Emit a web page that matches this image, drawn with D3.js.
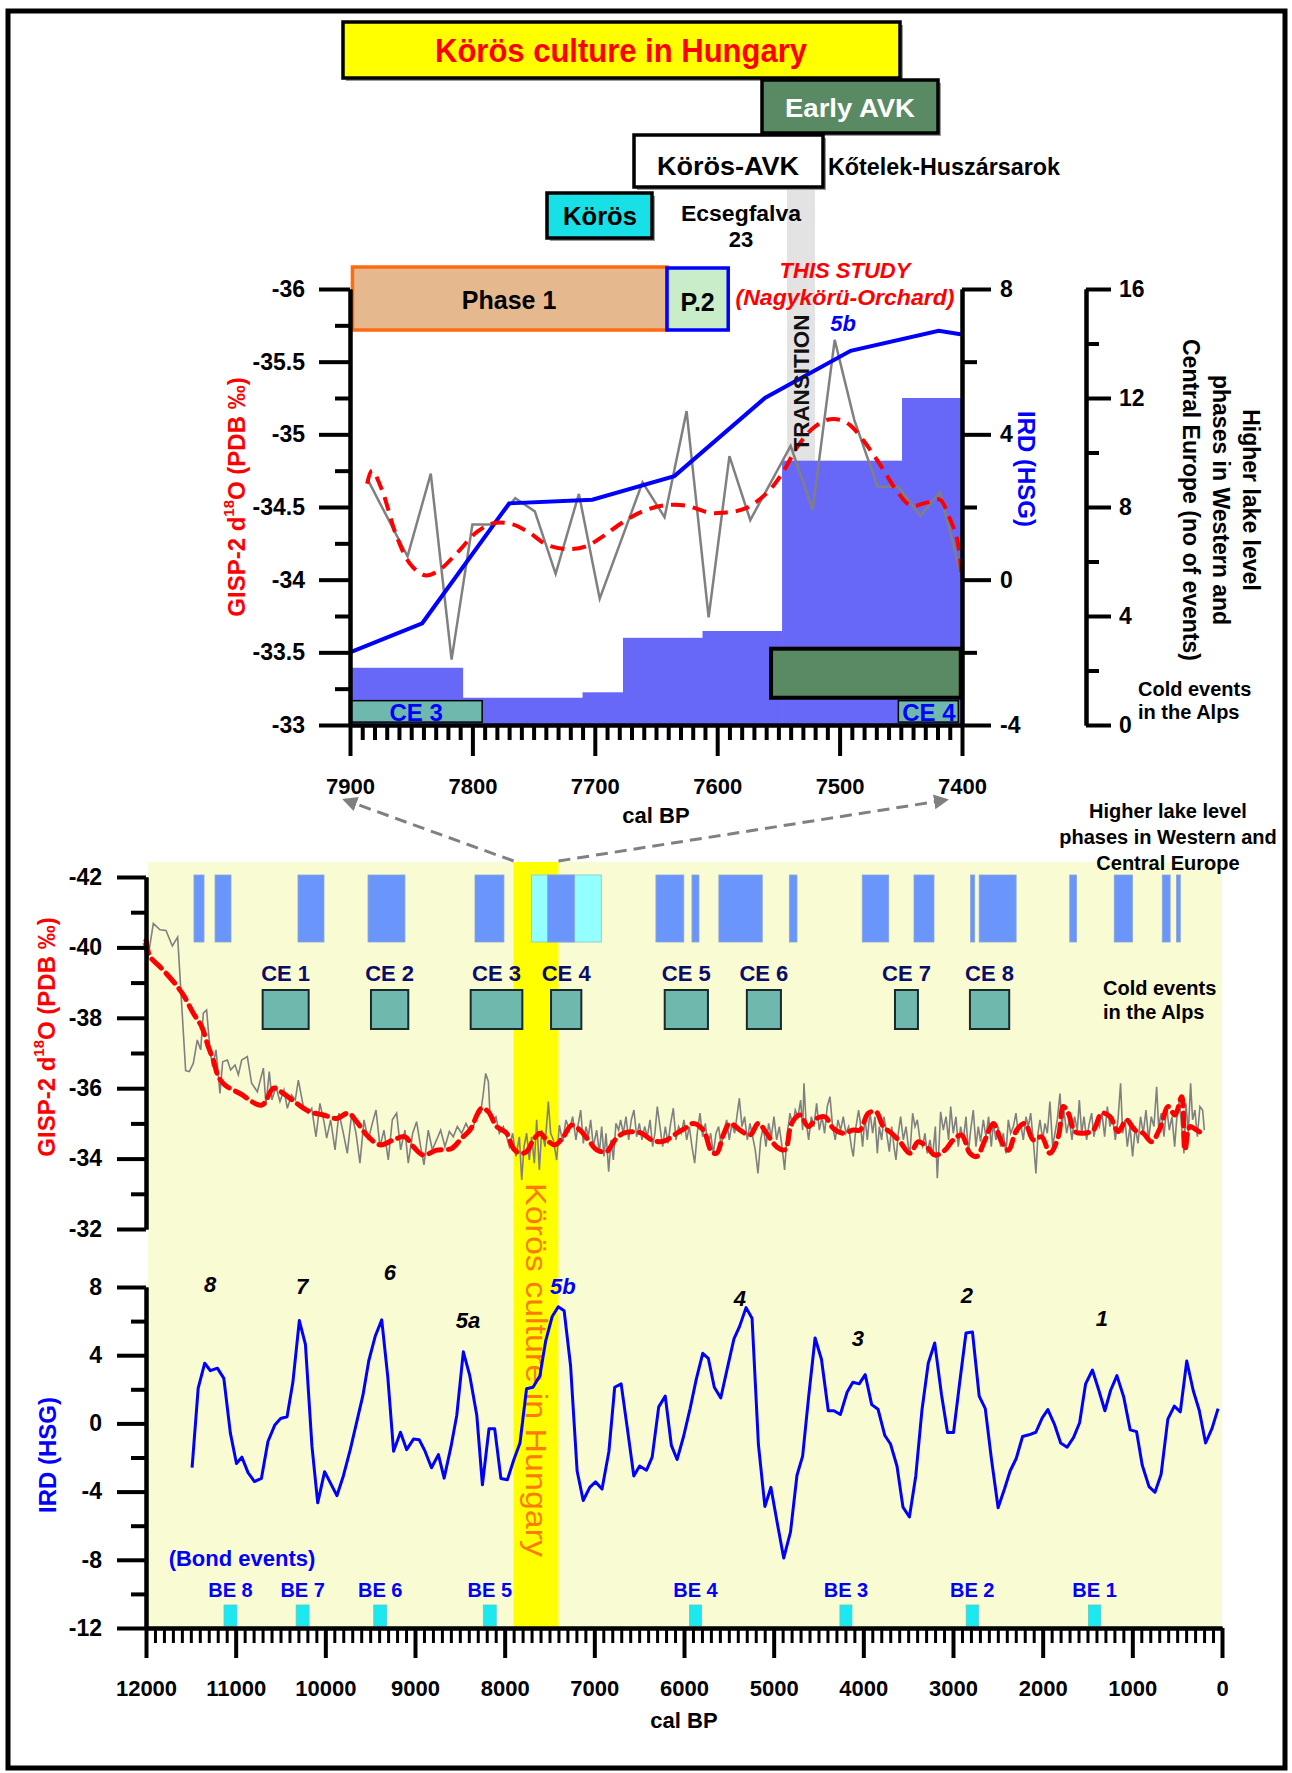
<!DOCTYPE html>
<html><head><meta charset="utf-8">
<script src="https://cdn.jsdelivr.net/npm/d3@7"></script>
<style>
body{margin:0;background:#fff}
svg{display:block;font-family:"Liberation Sans",Arial,sans-serif;font-weight:bold}
</style></head><body>
<svg id="c" width="1292" height="1773"></svg>
<script>
// ---------------- DATA ----------------
// Upper chart (7900-7400 cal BP)
const upperGisp = [[7885,-34.68],[7853,-34.16],[7834,-34.73],[7817,-33.45],[7800,-34.38],[7783,-34.38],[7765,-34.56],[7749,-34.47],[7732,-34.04],[7713,-34.59],[7696,-33.87],[7661,-34.67],[7643,-34.43],[7625,-35.16],[7607,-33.74],[7590,-34.85],[7573,-34.41],[7540,-34.92],[7522,-34.48],[7504,-35.65],[7488,-35.10],[7469,-34.64],[7452,-34.64],[7434,-34.44],[7418,-34.60],[7401,-34.04]];
const upperGispSmooth = [[7886,-34.66],[7882,-34.75],[7874,-34.62],[7862,-34.30],[7851,-34.11],[7839,-34.03],[7828,-34.06],[7813,-34.18],[7796,-34.33],[7782,-34.39],[7767,-34.38],[7753,-34.32],[7739,-34.24],[7721,-34.21],[7707,-34.23],[7693,-34.30],[7678,-34.39],[7661,-34.47],[7644,-34.51],[7626,-34.51],[7606,-34.46],[7596,-34.46],[7577,-34.49],[7559,-34.60],[7547,-34.73],[7534,-34.92],[7522,-35.04],[7510,-35.10],[7500,-35.10],[7491,-35.06],[7479,-34.94],[7466,-34.78],[7454,-34.62],[7442,-34.51],[7429,-34.53],[7418,-34.55],[7411,-34.44],[7404,-34.28],[7400,-33.98]];
const upperIrd = [[7900,-2.0],[7841,-1.2],[7770,2.1],[7702,2.2],[7635,2.85],[7561,5.0],[7491,6.3],[7419,6.85],[7400,6.75]];
const lakeStepStart = [7900,7808,7710,7677,7612,7547,7449];
const lakeStepEnd   = [7808,7710,7677,7612,7547,7449,7400];
const lakeStepCount = [2.1,1.0,1.2,3.2,3.45,9.7,12.0];
const upperGispTicks = [-36,-35.5,-35,-34.5,-34,-33.5,-33];
const upperIrdTicks = [8,4,0,-4];
const lakeTicks = [16,12,8,4,0];
const upperYearTicks = [7900,7800,7700,7600,7500,7400];

// Lower chart (12000-0 cal BP)
const lowerGispRaw = [[12030,-40.12],[11985,-39.60],[11918,-40.68],[11844,-40.50],[11777,-40.48],[11706,-40.04],[11647,-40.29],[11558,-36.50],[11517,-36.47],[11472,-36.71],[11428,-37.37],[11390,-37.09],[11361,-38.13],[11324,-38.22],[11286,-37.09],[11257,-36.61],[11219,-37.09],[11175,-35.85],[11145,-36.75],[11093,-36.80],[11056,-36.52],[11007,-36.66],[10970,-36.38],[10933,-36.80],[10870,-36.90],[10822,-36.14],[10758,-35.90],[10691,-36.57],[10662,-35.52],[10625,-36.47],[10595,-35.67],[10550,-36.04],[10506,-35.62],[10461,-35.95],[10424,-35.43],[10376,-35.81],[10335,-35.67],[10301,-36.23],[10245,-35.48],[10190,-35.29],[10152,-35.43],[10104,-34.62],[10060,-35.57],[10015,-35.05],[9985,-34.58],[9941,-35.10],[9892,-34.25],[9848,-35.29],[9799,-34.72],[9755,-34.15],[9706,-35.29],[9658,-34.72],[9614,-33.87],[9569,-35.10],[9521,-34.53],[9476,-35.00],[9435,-35.38],[9390,-34.34],[9346,-34.81],[9298,-33.96],[9253,-35.10],[9205,-35.29],[9160,-34.25],[9112,-34.81],[9075,-33.87],[9026,-34.72],[8982,-35.05],[8937,-34.34],[8900,-33.82],[8852,-34.81],[8807,-34.25],[8759,-34.53],[8714,-34.81],[8666,-34.34],[8617,-34.77],[8573,-34.62],[8528,-34.91],[8480,-34.72],[8431,-35.00],[8387,-34.77],[8350,-34.91],[8313,-35.19],[8268,-35.29],[8238,-35.85],[8212,-36.42],[8182,-36.19],[8164,-35.29],[8134,-35.10],[8097,-35.19],[8060,-34.72],[8015,-34.91],[7978,-34.62],
[7948,-34.34],[7911,-34.72],[7874,-34.06],[7836,-34.62],[7810,-33.39],[7784,-34.34],[7755,-34.72],[7725,-33.96],[7699,-34.62],[7669,-33.87],[7643,-35.10],[7613,-33.68],[7587,-34.81],[7550,-34.34],[7513,-35.62],[7487,-34.72],[7457,-34.53],[7420,-33.96],[7390,-34.95],[7353,-34.48],[7316,-35.10],[7279,-34.81],[7242,-35.19],[7205,-34.53],[7178,-35.00],[7152,-35.38],[7123,-34.43],[7093,-34.91],[7067,-34.62],[7041,-35.10],[7011,-34.34],[6974,-34.81],[6944,-34.15],[6918,-34.91],[6892,-34.06],[6870,-34.72],[6840,-33.63],[6814,-34.53],[6788,-33.96],[6759,-35.00],[6729,-34.81],[6707,-35.10],[6677,-34.72],[6647,-35.19],[6617,-34.53],[6588,-35.10],[6558,-35.38],[6528,-34.62],[6498,-35.00],[6469,-34.53],[6439,-34.91],[6409,-34.62],[6379,-35.10],[6350,-34.34],[6324,-34.72],[6298,-35.48],[6268,-34.91],[6238,-34.34],[6208,-34.91],[6179,-34.43],[6149,-35.00],[6119,-35.43],[6089,-34.53],[6060,-34.91],[6030,-34.72],[6000,-35.10],[5970,-34.53],[5941,-34.91],[5911,-34.34],[5881,-33.87],[5852,-34.72],[5822,-35.29],[5792,-34.62],[5762,-35.00],[5733,-34.34],[5703,-34.72],[5673,-34.15],[5643,-34.72],[5614,-34.91],[5584,-34.34],[5554,-34.81],[5524,-35.10],[5495,-34.53],[5465,-35.00],[5435,-34.72],[5405,-35.29],[5383,-35.71],[5353,-34.91],[5324,-35.19],[5294,-34.53],[5264,-35.00],[5234,-34.62],[5205,-34.24],[5175,-33.58],[5145,-34.53],[5116,-34.91],[5086,-34.34],[5056,-35.00],[5026,-34.62],[4997,-35.19],[4967,-34.53],[4937,-34.91],[4907,-34.34],[4878,-33.68],[4848,-34.72],[4818,-35.29],[4788,-34.91],[4759,-35.38],[4729,-35.19],[4699,-35.66],[4677,-34.81],[4662,-36.14],[4640,-35.10],[4610,-34.53],[4580,-35.19],[4551,-34.91],[4521,-35.57],[4491,-34.81],[4461,-35.19],[4432,-34.72],[4402,-35.48],[4372,-35.76],[4343,-34.91],[4313,-34.53],[4283,-35.10],[4253,-34.81],[4224,-35.19],[4194,-34.72],[4164,-34.91],[4134,-34.34],[4112,-34.06],[4082,-34.91],[4053,-35.38],
[4037,-35.10],[4008,-34.34],[3982,-35.19],[3956,-34.53],[3926,-35.33],[3896,-34.72],[3870,-35.19],[3844,-34.15],[3822,-34.91],[3796,-34.53],[3770,-35.19],[3740,-34.72],[3710,-34.20],[3684,-34.91],[3658,-34.34],[3636,-33.96],[3610,-34.72],[3584,-35.19],[3554,-34.53],[3524,-34.91],[3498,-34.34],[3480,-34.15],[3450,-35.29],[3424,-34.91],[3398,-35.10],[3368,-34.53],[3339,-34.34],[3313,-34.72],[3287,-34.15],[3257,-34.53],[3227,-34.06],[3197,-34.91],[3175,-33.44],[3153,-34.53],[3138,-35.33],[3108,-34.81],[3078,-35.19],[3049,-34.53],[3026,-35.48],[2997,-34.72],[2967,-35.19],[2941,-34.34],[2915,-34.91],[2885,-34.53],[2855,-35.19],[2829,-34.15],[2803,-34.81],[2774,-35.38],[2744,-34.34],[2718,-34.91],[2692,-34.48],[2662,-35.10],[2632,-34.62],[2603,-35.19],[2573,-34.34],[2551,-35.00],[2521,-34.53],[2495,-34.91],[2469,-34.34],[2439,-34.72],[2409,-34.15],[2383,-35.10],[2357,-34.72],[2327,-34.91],[2298,-35.29],[2272,-34.72],[2246,-35.00],[2216,-34.53],[2186,-35.19],[2160,-34.91],[2134,-35.29],[2105,-34.53],[2075,-33.58],[2052,-34.72],[2030,-35.10],[2000,-34.53],[1974,-35.00],[1948,-34.72],[1919,-35.62],[1889,-34.34],[1863,-34.72],[1837,-35.10],[1807,-35.85],[1785,-34.91],[1763,-35.38],[1733,-34.72],[1703,-35.10],[1673,-34.53],[1644,-35.19],[1614,-34.81],[1591,-35.66],[1565,-34.72],[1539,-35.19],[1510,-34.53],[1480,-35.00],[1454,-35.29],[1428,-34.62],[1398,-35.10],[1368,-34.91],[1339,-35.29],[1309,-34.62],[1279,-35.48],[1249,-34.91],[1220,-35.19],[1190,-34.53],[1160,-35.10],[1131,-36.14],[1108,-34.72],[1082,-35.10],[1056,-34.34],[1026,-34.91],[997,-34.06],[967,-34.91],[937,-34.43],[908,-35.19],[878,-34.72],[848,-35.38],[818,-34.53],[789,-35.19],[759,-34.91],[729,-36.04],[707,-34.91],[677,-35.29],[647,-34.62],[618,-35.48],[588,-34.81],[558,-35.19],[528,-34.34],[506,-35.10],[476,-35.66],[450,-34.91],[424,-34.15],[402,-35.57],[376,-34.72],[350,-36.14],[328,-35.10],[302,-35.38],[275,-34.62],[246,-35.48],[216,-35.38],[197,-34.81]];
const lowerGispSmooth = [[12000,-40.2],[11955,-39.74],[11844,-39.45],[11695,-39.03],[11584,-38.65],[11472,-38.13],[11379,-37.75],[11305,-37.18],[11249,-36.80],[11193,-36.33],[11119,-36.09],[10952,-35.85],[10710,-35.52],[10578,-36.00],[10468,-35.85],[10320,-35.57],[10171,-35.33],[10022,-35.24],[9874,-35.14],[9744,-35.29],[9651,-35.05],[9539,-34.67],[9390,-34.39],[9242,-34.53],[9112,-34.62],[9019,-34.34],[8907,-34.10],[8759,-34.24],[8591,-34.29],[8480,-34.58],[8387,-34.81],[8257,-35.43],[8182,-35.33],[8089,-34.91],[7978,-34.72],[7904,-34.29],[7829,-34.15],[7755,-34.20],[7681,-34.53],[7606,-34.72],[7532,-34.53],[7439,-34.39],[7346,-34.62],[7253,-34.95],[7160,-34.81],[7067,-34.53],[6974,-34.25],[6863,-34.20],[6770,-34.53],[6677,-34.72],[6565,-34.76],[6472,-34.72],[6361,-34.53],[6268,-34.48],[6193,-34.53],[6082,-34.72],[5989,-34.86],[5896,-35.00],[5785,-34.81],[5692,-34.20],[5636,-34.15],[5562,-34.67],[5487,-35.00],[5376,-34.81],[5264,-34.67],[5171,-35.00],[5079,-34.72],[4967,-34.34],[4874,-34.25],[4800,-35.00],[4707,-35.24],[4614,-34.91],[4521,-35.14],[4428,-35.19],[4335,-34.86],[4223,-34.72],[4112,-34.81],[4037,-34.81],[3945,-35.29],[3859,-35.33],[3777,-34.91],[3684,-34.72],[3591,-34.48],[3480,-34.15],[3387,-34.48],[3294,-34.34],[3201,-34.10],[3090,-34.24],[2997,-34.53],[2904,-34.67],[2811,-34.15],[2736,-34.06],[2643,-34.53],[2550,-35.00],[2458,-34.48],[2383,-34.24],[2290,-34.81],[2197,-35.00],[2104,-34.53],[2012,-34.62],[1919,-34.15],[1826,-34.62],[1770,-35.48],[1714,-35.29],[1640,-34.77],[1547,-34.72],[1435,-34.81],[1342,-35.29],[1249,-35.19],[1157,-34.77],[1064,-35.10],[971,-34.81],[878,-34.72],[785,-34.48],[692,-34.86],[599,-35.48],[525,-35.24],[450,-35.76],[413,-34.24],[357,-34.91],[283,-34.81],[190,-34.67]];
const lowerIrd = [[11486,-2.60],[11418,2.07],[11345,3.53],[11281,3.09],[11204,3.24],[11132,2.64],[11059,-0.57],[10991,-2.35],[10931,-1.98],[10862,-2.89],[10790,-3.41],[10713,-3.23],[10640,-1.06],[10563,-0.09],[10499,0.29],[10427,0.39],[10362,2.41],[10290,6.03],[10222,4.63],[10149,-1.35],[10085,-4.66],[10008,-2.83],[9871,-4.24],[9799,-3.08],[9722,-1.54],[9649,0.10],[9581,1.64],[9516,3.66],[9444,5.11],[9371,6.07],[9303,2.70],[9239,-1.63],[9162,-0.52],[9093,-1.54],[9017,-0.92],[8953,-0.96],[8888,-1.63],[8816,-2.60],[8739,-1.83],[8675,-3.21],[8598,-1.35],[8534,0.48],[8461,4.20],[8389,2.80],[8311,0.48],[8248,-3.60],[8175,-0.32],[8111,-0.32],[8042,-3.23],[7970,-3.31],[7897,-2.12],[7829,-1.15],[7756,2.03],[7684,2.12],[7607,2.80],[7543,4.82],[7470,6.27],[7402,6.84],[7337,6.61],[7265,3.38],[7192,-2.79],[7124,-4.52],[7051,-3.75],[6987,-3.43],[6914,-3.85],[6837,-1.63],[6773,2.12],[6701,2.32],[6632,-0.29],[6560,-3.08],[6495,-2.50],[6419,-2.75],[6355,-1.98],[6282,0.97],[6209,1.60],[6141,-1.29],[6077,-2.12],[6005,-0.77],[5932,0.87],[5863,2.60],[5791,4.11],[5729,3.82],[5662,2.12],[5590,1.49],[5519,3.18],[5443,4.96],[5380,5.69],[5308,6.79],[5241,6.17],[5170,-1.25],[5098,-4.87],[5031,-3.75],[4959,-5.87],[4888,-7.90],[4812,-6.36],[4740,-3.04],[4677,-1.92],[4610,1.55],[4538,5.01],[4467,3.76],[4391,0.74],[4328,0.74],[4256,0.52],[4181,1.83],[4117,2.41],[4046,2.32],[3979,2.86],[3907,1.10],[3836,0.83],[3760,-0.71],[3697,-1.21],[3625,-2.50],[3558,-4.91],[3486,-5.49],[3415,-3.08],[3347,0.74],[3276,3.53],[3204,4.72],[3128,1.68],[3061,-0.54],[2994,-0.54],[2926,2.37],[2855,5.30],[2783,5.36],[2708,1.60],[2640,0.87],[2573,-2.02],[2497,-4.95],[2426,-3.85],[2363,-2.79],[2295,-2.06],[2224,-0.77],[2152,-0.67],[2076,-0.52],[2005,0.33],[1942,0.81],[1866,-0.09],[1799,-1.15],[1727,-1.40],[1655,-0.82],[1588,0.04],[1521,2.32],[1445,3.13],[1373,1.93],[1306,0.74],[1243,1.93],[1172,2.80],[1096,1.55],[1024,-0.38],[953,-0.48],[890,-2.44],[814,-3.71],[747,-4.04],[679,-2.98],[604,0.25],[532,1.01],[465,0.68],[393,3.66],[321,1.93],[254,0.77],[183,-1.15],[111,-0.29],[44,0.87]];
const lakePhases = [[11465,11353],[11230,11052],[10305,10015],[9524,9112],[8331,8008],[7521,7222],[6313,6002],[5911,5833],[5611,5127],[4825,4740],[4012,3717],[3435,3212],[2804,2758],[2708,2296],[1698,1622],[1202,999],[666,578],[507,465]];
const lakePhaseStudy = [7701,6922];
const ceNames = ["CE 1","CE 2","CE 3","CE 4","CE 5","CE 6","CE 7","CE 8"];
const ceStart = [10699,9491,8379,7483,6215,5299,3647,2811];
const ceEnd   = [10186,9075,7803,7145,5733,4919,3391,2373];
const bondNames = ["BE 8","BE 7","BE 6","BE 5","BE 4","BE 3","BE 2","BE 1"];
const bondStart = [11130,10325,9460,8238,5939,4261,2853,1489];
const bondEnd   = [10986,10181,9316,8094,5805,4127,2717,1353];
const bondPeakLabels = ["8","7","6","5a","5b","4","3","2","1"];
const bondPeakYears  = [11286,10260,9279,8409,7350,5376,4060,2844,1339];
const bondPeakLevels = [8.2,8.05,8.9,6.05,8.05,7.35,5.0,7.55,6.2];
const lowerGispTicks = [-42,-40,-38,-36,-34,-32];
const lowerIrdTicks = [8,4,0,-4,-8,-12];
const lowerYearTicks = [12000,11000,10000,9000,8000,7000,6000,5000,4000,3000,2000,1000,0];
const korosSpan = [7900,7400];

// ---------------- DRAWING ----------------
const svg = d3.select('#c');
const FONT = '"Liberation Sans",Arial,sans-serif';

function label(g, x, y, s, o) {
  o = o || {};
  const t = g.append('text').attr('x', x).attr('y', y).text(s)
    .attr('text-anchor', o.anchor || 'middle')
    .attr('font-size', o.size || 22)
    .attr('font-weight', o.weight || 'bold')
    .attr('font-style', o.italic ? 'italic' : 'normal')
    .attr('fill', o.fill || '#000');
  if (o.len) t.attr('textLength', o.len).attr('lengthAdjust', 'spacingAndGlyphs');
  if (o.rot) t.attr('transform', `rotate(${o.rot},${x},${y})`);
  if (o.db) t.attr('dominant-baseline', o.db);
  return t;
}
function styleAxis(sel, fs) {
  sel.attr('font-family', null).attr('font-size', null);
  sel.select('.domain').attr('stroke', '#000').attr('stroke-width', 4);
  sel.selectAll('.tick line').attr('stroke', '#000').attr('stroke-width', 4);
  sel.selectAll('.tick text').attr('fill', '#000').attr('font-size', fs).attr('font-weight', 'bold').attr('font-family', FONT);
}
const fmt = d => String(d);

// outer frame
svg.append('rect').attr('x', 8).attr('y', 11).attr('width', 1277).attr('height', 1757)
  .attr('fill', 'none').attr('stroke', '#000').attr('stroke-width', 5);

// ---------- top culture boxes ----------
function box(x, y, w, h, fill) {
  svg.append('rect').attr('x', x + 3).attr('y', y + 3).attr('width', w).attr('height', h).attr('fill', '#9a9a9a');
  svg.append('rect').attr('x', x).attr('y', y).attr('width', w).attr('height', h)
    .attr('fill', fill).attr('stroke', '#000').attr('stroke-width', 3.5);
}
const xU = d3.scaleLinear().domain([7900, 7400]).range([350, 962]);
const yU = d3.scaleLinear().domain([-36, -33]).range([289, 725]);
const yIrdU = d3.scaleLinear().domain([8, -4]).range([289, 725]);
const yLake = d3.scaleLinear().domain([16, 0]).range([289, 725]);

// gray transition band (behind)
svg.append('rect').attr('x', 787).attr('y', 182).attr('width', 28).attr('height', 725 - 182).attr('fill', '#e3e3e3');

box(343, 22, 557, 56, '#ffff00');
label(svg, 621, 62, 'Körös culture in Hungary', {size: 33, fill: '#ff0000', len: 372});
box(762, 80, 176, 53, '#5a8a64');
label(svg, 850, 117, 'Early AVK', {size: 25, fill: '#fff', len: 130});
box(634, 135, 189, 52, '#ffffff');
label(svg, 728, 175, 'Körös-AVK', {size: 25, len: 142});
label(svg, 828, 175, 'Kőtelek-Huszársarok', {size: 23, anchor: 'start', len: 232});
box(547, 193, 105, 45, '#17e1e6');
label(svg, 600, 225, 'Körös', {size: 25, len: 74});
label(svg, 741, 221, 'Ecsegfalva', {size: 22, len: 120});
label(svg, 741, 247, '23', {size: 22});

// ---------- upper chart ----------
const gU = svg.append('g');
// lake level step fill
gU.selectAll('rect.lake').data(lakeStepCount).join('rect')
  .attr('x', (d, i) => xU(lakeStepStart[i]))
  .attr('width', (d, i) => xU(lakeStepEnd[i]) - xU(lakeStepStart[i]) + 0.5)
  .attr('y', d => yLake(d)).attr('height', d => yLake(0) - yLake(d))
  .attr('fill', '#6868f8');

// phase boxes
gU.append('rect').attr('x', xU(7898)).attr('y', 267).attr('width', xU(7641) - xU(7898)).attr('height', 63)
  .attr('fill', '#e5b98d').attr('stroke', '#ff6a13').attr('stroke-width', 3.5);
label(gU, xU(7770), 309, 'Phase 1', {size: 25});
gU.append('rect').attr('x', xU(7641)).attr('y', 268).attr('width', xU(7591) - xU(7641)).attr('height', 62)
  .attr('fill', '#c9ecc9').attr('stroke', '#0000ff').attr('stroke-width', 3.5);
label(gU, xU(7616), 311, 'P.2', {size: 25});

// cold event boxes in upper chart
gU.append('rect').attr('x', xU(7556)).attr('y', yIrdU(-1.9)).attr('width', xU(7401) - xU(7556)).attr('height', yIrdU(-3.25) - yIrdU(-1.9))
  .attr('fill', '#5a8a64').attr('stroke', '#000').attr('stroke-width', 4);
gU.append('rect').attr('x', xU(7900)).attr('y', yIrdU(-3.33)).attr('width', xU(7792) - xU(7900)).attr('height', yIrdU(-3.92) - yIrdU(-3.33))
  .attr('fill', '#6fb8ae').attr('stroke', '#000').attr('stroke-width', 1.5);
label(gU, xU(7846), 721, 'CE 3', {size: 24, fill: '#0000ff'});
gU.append('rect').attr('x', xU(7452)).attr('y', yIrdU(-3.33)).attr('width', xU(7403) - xU(7452)).attr('height', yIrdU(-3.92) - yIrdU(-3.33))
  .attr('fill', '#6fb8ae').attr('stroke', '#000').attr('stroke-width', 1.5);
label(gU, xU(7427), 721, 'CE 4', {size: 24, fill: '#0000ff'});

// series
const lineU = d3.line().x(d => xU(d[0])).y(d => yU(d[1]));
gU.append('path').attr('d', lineU(upperGisp)).attr('fill', 'none').attr('stroke', '#808080').attr('stroke-width', 2.5);
gU.append('path').attr('d', d3.line().x(d => xU(d[0])).y(d => yIrdU(d[1]))(upperIrd))
  .attr('fill', 'none').attr('stroke', '#0000ff').attr('stroke-width', 4);
gU.append('path').attr('d', d3.line().curve(d3.curveCatmullRom).x(d => xU(d[0])).y(d => yU(d[1]))(upperGispSmooth))
  .attr('fill', 'none').attr('stroke', '#ff0000').attr('stroke-width', 4).attr('stroke-dasharray', '14,8');

label(gU, 801, 383, 'TRANSITION', {size: 22, rot: -90, db: 'central', fill: '#111', len: 137});
label(gU, 845, 278, 'THIS STUDY', {size: 22, italic: true, fill: '#ff0000'});
label(gU, 845, 305, '(Nagykörü-Orchard)', {size: 22, italic: true, fill: '#ff0000', len: 219});
label(gU, 843, 331, '5b', {size: 22, italic: true, fill: '#0000ff'});

// axes upper
const axL = gU.append('g').attr('transform', 'translate(350,0)')
  .call(d3.axisLeft(yU).tickValues(upperGispTicks).tickSize(31).tickSizeOuter(0).tickPadding(14).tickFormat(fmt));
styleAxis(axL, 23);
const axLm = gU.append('g').attr('transform', 'translate(350,0)')
  .call(d3.axisLeft(yU).tickValues(d3.range(-35.75, -33, 0.5)).tickSize(15).tickSizeOuter(0).tickFormat(''));
styleAxis(axLm, 23);
const axB = gU.append('g').attr('transform', 'translate(0,725)')
  .call(d3.axisBottom(xU).tickValues(upperYearTicks).tickSize(31).tickSizeOuter(0).tickPadding(22).tickFormat(fmt));
styleAxis(axB, 22);
const axBm = gU.append('g').attr('transform', 'translate(0,725)')
  .call(d3.axisBottom(xU).tickValues(d3.range(7890, 7400, -10).filter(v => v % 100 !== 0)).tickSize(15).tickSizeOuter(0).tickFormat(''));
styleAxis(axBm, 22);
const axR = gU.append('g').attr('transform', 'translate(962,0)')
  .call(d3.axisRight(yIrdU).tickValues(upperIrdTicks).tickSize(29).tickSizeOuter(0).tickPadding(9).tickFormat(fmt));
styleAxis(axR, 23);
const axRm = gU.append('g').attr('transform', 'translate(962,0)')
  .call(d3.axisRight(yIrdU).tickValues([6, 2, -2]).tickSize(15).tickSizeOuter(0).tickFormat(''));
styleAxis(axRm, 23);
const axRR = gU.append('g').attr('transform', 'translate(1086,0)')
  .call(d3.axisRight(yLake).tickValues(lakeTicks).tickSize(25).tickSizeOuter(0).tickPadding(8).tickFormat(fmt));
styleAxis(axRR, 23);
const axRRm = gU.append('g').attr('transform', 'translate(1086,0)')
  .call(d3.axisRight(yLake).tickValues([14, 10, 6, 2]).tickSize(13).tickSizeOuter(0).tickFormat(''));
styleAxis(axRRm, 23);

label(gU, 656, 823, 'cal BP', {size: 22});
// left title with superscript
function gispTitle(g, x, y) {
  const t = g.append('text').attr('transform', `translate(${x},${y}) rotate(-90)`).attr('text-anchor', 'middle')
    .attr('dominant-baseline', 'central').attr('font-size', 24).attr('font-weight', 'bold').attr('fill', '#ff0000');
  t.append('tspan').text('GISP-2 d');
  t.append('tspan').text('18').attr('font-size', 15).attr('dy', -8);
  t.append('tspan').text('O (PDB ‰)').attr('dy', 8);
}
gispTitle(gU, 236, 497);
label(gU, 1026, 469, 'IRD (HSG)', {size: 24, fill: '#0000ff', rot: 90, db: 'central'});
const rl = gU.append('g').attr('transform', 'translate(1221,500) rotate(90)');
['Higher lake level', 'phases in Western and', 'Central Europe (no of events)'].forEach((s, i) => {
  rl.append('text').attr('x', 0).attr('y', -30 + i * 30).attr('text-anchor', 'middle').attr('dominant-baseline', 'central')
    .attr('font-size', 23).attr('font-weight', 'bold').text(s);
});
label(gU, 1138, 696, 'Cold events', {size: 20, anchor: 'start'});
label(gU, 1138, 719, 'in the Alps', {size: 20, anchor: 'start'});

// ---------- lower chart ----------
const xL = d3.scaleLinear().domain([12000, 0]).range([146, 1222]);
const yG = d3.scaleLinear().domain([-42, -32]).range([877, 1229]);
const yI = d3.scaleLinear().domain([8, -12]).range([1287, 1628]);
const gL = svg.append('g');

gL.append('rect').attr('x', 148).attr('y', 862).attr('width', 1222 - 148).attr('height', 1628 - 862).attr('fill', '#f9fbd3');
gL.append('rect').attr('x', xL(korosSpan[0])).attr('y', 862).attr('width', xL(korosSpan[1]) - xL(korosSpan[0])).attr('height', 1628 - 862).attr('fill', '#ffff00');

// arrows
const defs = svg.append('defs');
defs.append('marker').attr('id', 'ah').attr('viewBox', '0 0 10 10').attr('refX', 8).attr('refY', 5)
  .attr('markerWidth', 5).attr('markerHeight', 5).attr('orient', 'auto')
  .append('path').attr('d', 'M0,0 L10,5 L0,10 z').attr('fill', '#808080');
gL.append('line').attr('x1', xL(korosSpan[0])).attr('y1', 861).attr('x2', 345).attr('y2', 800)
  .attr('stroke', '#808080').attr('stroke-width', 3).attr('stroke-dasharray', '12,7').attr('marker-end', 'url(#ah)');
gL.append('line').attr('x1', xL(korosSpan[1])).attr('y1', 861).attr('x2', 946).attr('y2', 800)
  .attr('stroke', '#808080').attr('stroke-width', 3).attr('stroke-dasharray', '12,7').attr('marker-end', 'url(#ah)');

// lake phases
gL.append('rect').attr('x', xL(lakePhaseStudy[0])).attr('y', 875).attr('width', xL(lakePhaseStudy[1]) - xL(lakePhaseStudy[0])).attr('height', 67)
  .attr('fill', '#94ffff').attr('stroke', '#8fd0d0').attr('stroke-width', 1);
gL.selectAll('rect.lp').data(lakePhases).join('rect')
  .attr('x', d => xL(d[0])).attr('width', d => xL(d[1]) - xL(d[0])).attr('y', 875).attr('height', 67)
  .attr('fill', '#6a96fb').attr('stroke', '#8aa6d8').attr('stroke-width', 0.8);

// cold events
gL.selectAll('rect.ce').data(ceNames).join('rect')
  .attr('x', (d, i) => xL(ceStart[i])).attr('width', (d, i) => xL(ceEnd[i]) - xL(ceStart[i]))
  .attr('y', 990).attr('height', 39).attr('fill', '#6fb8ae').attr('stroke', '#1a2a2a').attr('stroke-width', 2);
ceNames.forEach((s, i) => label(gL, (xL(ceStart[i]) + xL(ceEnd[i])) / 2, 981, s, {size: 22, fill: '#0c0c6a'}));
label(gL, 1103, 995, 'Cold events', {size: 20, anchor: 'start'});
label(gL, 1103, 1019, 'in the Alps', {size: 20, anchor: 'start'});
label(gL, 1168, 818, 'Higher lake level', {size: 20});
label(gL, 1168, 844, 'phases in Western and', {size: 20});
label(gL, 1168, 870, 'Central Europe', {size: 20});

// GISP series
gL.append('path').attr('d', d3.line().x(d => xL(d[0])).y(d => yG(d[1]))(lowerGispRaw))
  .attr('fill', 'none').attr('stroke', '#808080').attr('stroke-width', 1.6);
gL.append('path').attr('d', d3.line().curve(d3.curveCatmullRom).x(d => xL(d[0])).y(d => yG(d[1]))(lowerGispSmooth))
  .attr('fill', 'none').attr('stroke', '#ff0000').attr('stroke-width', 5).attr('stroke-dasharray', '13,7').attr('stroke-linecap', 'round');

// Koros vertical text
label(gL, 536, 1370, 'Körös culture in Hungary', {size: 30, weight: 'normal', fill: '#ff7a00', rot: 90, db: 'central', len: 374});

// IRD
gL.append('path').attr('d', d3.line().x(d => xL(d[0])).y(d => yI(d[1]))(lowerIrd))
  .attr('fill', 'none').attr('stroke', '#0000ff').attr('stroke-width', 3).attr('stroke-linejoin', 'round');
bondPeakLabels.forEach((s, i) => label(gL, xL(bondPeakYears[i]), yI(bondPeakLevels[i]) + 8, s,
  {size: 22, italic: true, fill: s === '5b' ? '#0000ff' : '#000'}));

// Bond events
gL.selectAll('rect.be').data(bondNames).join('rect')
  .attr('x', (d, i) => xL(bondStart[i])).attr('width', (d, i) => xL(bondEnd[i]) - xL(bondStart[i]))
  .attr('y', 1605).attr('height', 21).attr('fill', '#1ce8ef').attr('stroke', '#5cc').attr('stroke-width', 0.8);
bondNames.forEach((s, i) => label(gL, (xL(bondStart[i]) + xL(bondEnd[i])) / 2, 1597, s, {size: 20, fill: '#0000ff'}));
label(gL, 242, 1566, '(Bond events)', {size: 22, fill: '#0000ff'});

// axes lower
const aG = gL.append('g').attr('transform', 'translate(146,0)')
  .call(d3.axisLeft(yG).tickValues(lowerGispTicks).tickSize(29).tickSizeOuter(0).tickPadding(15).tickFormat(fmt));
styleAxis(aG, 23);
const aGm = gL.append('g').attr('transform', 'translate(146,0)')
  .call(d3.axisLeft(yG).tickValues([-41, -39, -37, -35, -33]).tickSize(15).tickSizeOuter(0).tickFormat(''));
styleAxis(aGm, 23);
const aI = gL.append('g').attr('transform', 'translate(146,0)')
  .call(d3.axisLeft(yI).tickValues(lowerIrdTicks).tickSize(29).tickSizeOuter(0).tickPadding(15).tickFormat(fmt));
styleAxis(aI, 23);
const aIm = gL.append('g').attr('transform', 'translate(146,0)')
  .call(d3.axisLeft(yI).tickValues([6, 2, -2, -6, -10]).tickSize(15).tickSizeOuter(0).tickFormat(''));
styleAxis(aIm, 23);
const aX = gL.append('g').attr('transform', 'translate(0,1628)')
  .call(d3.axisBottom(xL).tickValues(lowerYearTicks).tickSize(30).tickSizeOuter(0).tickPadding(22).tickFormat(fmt));
styleAxis(aX, 22);
const aXm = gL.append('g').attr('transform', 'translate(0,1628)')
  .call(d3.axisBottom(xL).tickValues(d3.range(11900, 0, -100).filter(v => v % 1000 !== 0)).tickSize(15).tickSizeOuter(0).tickFormat(''));
styleAxis(aXm, 22);
aXm.selectAll('.tick line').attr('stroke-width', 3);

label(gL, 684, 1728, 'cal BP', {size: 22});
gispTitle(gL, 46, 1037);
label(gL, 47, 1455, 'IRD (HSG)', {size: 24, fill: '#0000ff', rot: -90, db: 'central'});
</script></body></html>
